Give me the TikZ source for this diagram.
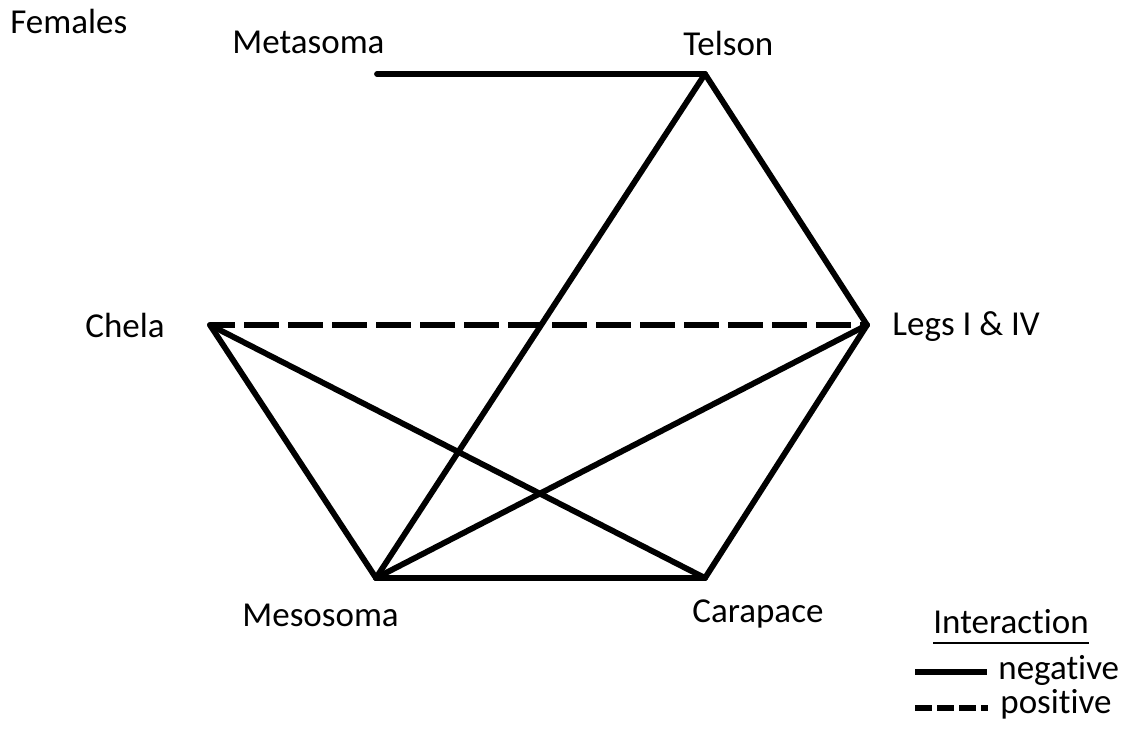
\documentclass[tikz,border=0pt]{standalone}
\usepackage{fontspec}
\setmainfont{Carlito}[Ligatures=NoCommon]
\usetikzlibrary{positioning}
\tikzset{
  lbl/.style     = {inner sep=0pt, anchor=base west},
  link/.style    = {line width=2.9pt, line cap=round, line join=round},
  poslink/.style = {line width=2.9pt, dash pattern=on 17.5pt off 4.5pt, dash phase=5pt},
  keyneg/.style  = {line width=3.3pt},
  keypos/.style  = {line width=3.3pt, dash pattern=on 8.5pt off 2.5pt},
}

\begin{document}
\begin{tikzpicture}[x=0.5pt,y=-0.5pt,font=\fontsize{17.5pt}{21pt}\selectfont]
\useasboundingbox (0,0) rectangle (1129,728);
% vertices
\coordinate (metend) at (377,74);
\coordinate (tel) at (705,74);
\coordinate (che) at (210,325);
\coordinate (leg) at (867,325);
\coordinate (mes) at (376,578);
\coordinate (car) at (705,578);
% labels
\node[lbl] (fem) at (10,33) {Females};
\node[lbl] (metlbl) at (232,53) {Metasoma};
\node[lbl] (tellbl) at (683,55) {Telson};
\node[lbl] (chelbl) at (85,337) {Chela};
\node[lbl] (leglbl) at (892,335) {Legs I \& IV};
\node[lbl] (meslbl) at (242,626) {Mesosoma};
\node[lbl] (carlbl) at (692,622) {Carapace};
% interactions
\draw[link] (metend) -- (tel);
\draw[link] (tel) -- (leg);
\draw[link] (tel) -- (mes);
\draw[poslink] (che) -- (leg);
\draw[link] (che) -- (mes);
\draw[link] (che) -- (car);
\draw[link] (leg) -- (mes);
\draw[link] (leg) -- (car);
\draw[link] (mes) -- (car);
% legend
\node[lbl] (int) at (933,633) {Interaction};
\draw[line width=1pt] ([yshift=-5pt]int.base west) -- ([yshift=-5pt]int.base east);
\node[lbl] (neg) at (998,679) {negative};
\node[lbl] (pos) at (1000,713) {positive};
\coordinate (negA) at (915,672);
\coordinate (negB) at (987,672);
\coordinate (posA) at (915,708);
\coordinate (posB) at (988,708);
\draw[keyneg] (negA) -- (negB);
\draw[keypos] (posA) -- (posB);
\end{tikzpicture}
\end{document}
